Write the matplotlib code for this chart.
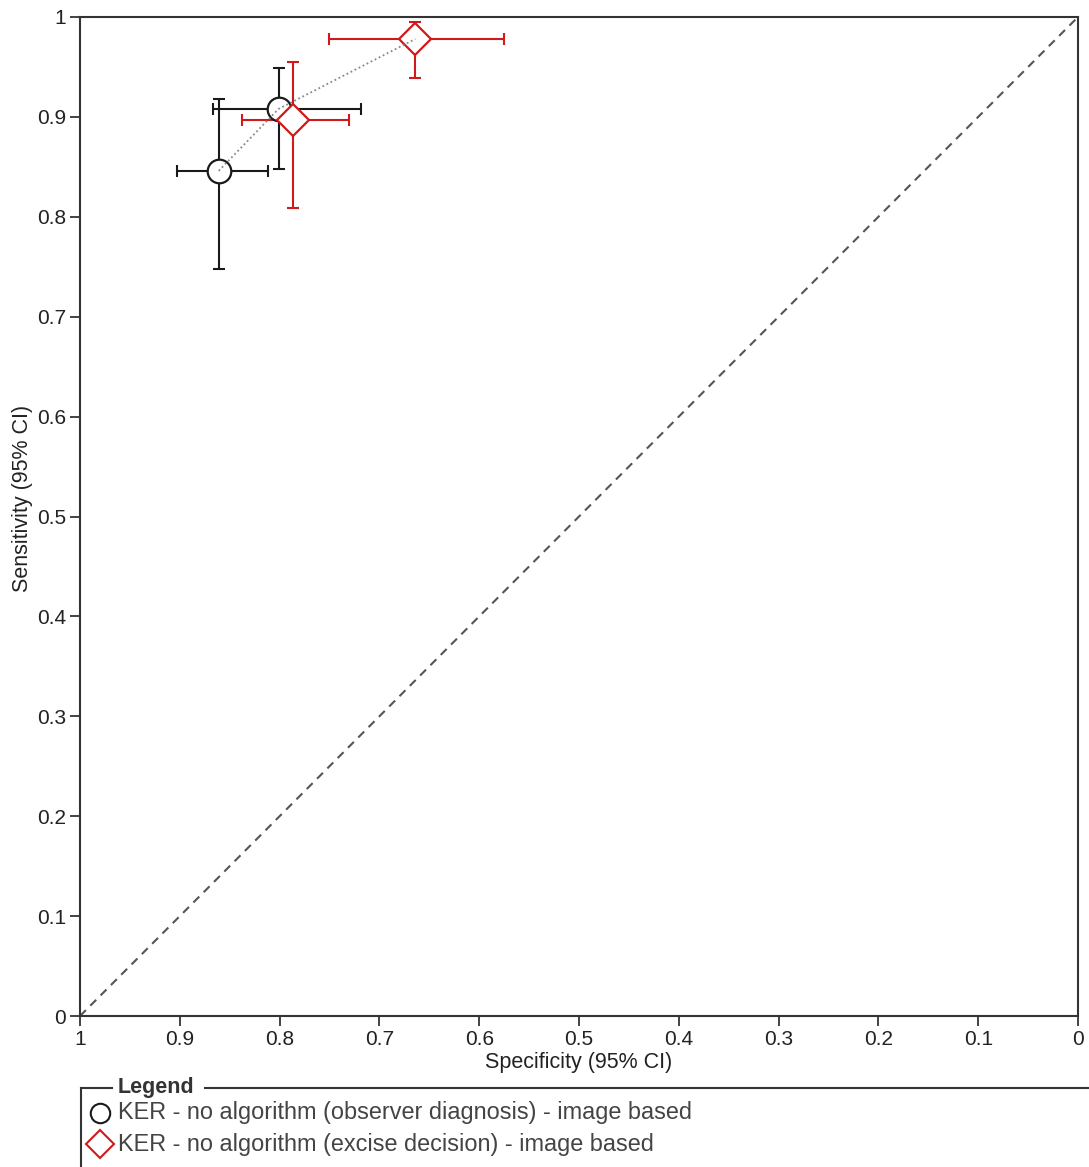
import matplotlib
matplotlib.use("Agg")
import matplotlib.pyplot as plt
from matplotlib.lines import Line2D

plt.rcParams['font.family'] = ['Liberation Sans', 'DejaVu Sans']

# Data
obs_spec = [0.861, 0.801]
obs_spec_lo = [0.812, 0.718]
obs_spec_hi = [0.903, 0.867]
obs_sens = [0.846, 0.908]
obs_sens_lo = [0.748, 0.848]
obs_sens_hi = [0.918, 0.949]

exc_spec = [0.787, 0.664]
exc_spec_lo = [0.730, 0.575]
exc_spec_hi = [0.838, 0.751]
exc_sens = [0.897, 0.978]
exc_sens_lo = [0.809, 0.939]
exc_sens_hi = [0.955, 0.995]

link_spec = [obs_spec[0], obs_spec[1], exc_spec[1]]
link_sens = [obs_sens[0], obs_sens[1], exc_sens[1]]

ticks = [0, 0.1, 0.2, 0.3, 0.4, 0.5, 0.6, 0.7, 0.8, 0.9, 1]
tick_labels = ['0', '0.1', '0.2', '0.3', '0.4', '0.5', '0.6', '0.7', '0.8', '0.9', '1']

legend_labels = ['KER - no algorithm (observer diagnosis) - image based',
                 'KER - no algorithm (excise decision) - image based']

W, H = 1089, 1167
fig = plt.figure(figsize=(W/100, H/100), dpi=100)
ax = fig.add_axes([80/W, 1 - 1016/H, (1078-80)/W, (1016-17)/H])
ax.set_xlim(1, 0)
ax.set_ylim(0, 1)

ax.plot([1, 0], [0, 1], ls=(0, (4, 3)), color='#555555', lw=1.5, zorder=1)

BLACK = '#1a1a1a'
RED = '#d0191b'

def draw(spec, lo_s, hi_s, sens, lo_t, hi_t, color, marker, ms, mew):
    for i in range(len(spec)):
        ax.errorbar(spec[i], sens[i],
                    xerr=[[spec[i]-lo_s[i]], [hi_s[i]-spec[i]]],
                    yerr=[[sens[i]-lo_t[i]], [hi_t[i]-sens[i]]],
                    fmt='none', ecolor=color, elinewidth=1.5, capsize=4.5, capthick=1.5, zorder=3)
    for i in range(len(spec)):
        ax.plot(spec[i], sens[i], marker=marker, ms=ms, mfc='white', mec=color, mew=mew, zorder=4)

draw(obs_spec, obs_spec_lo, obs_spec_hi, obs_sens, obs_sens_lo, obs_sens_hi, BLACK, 'o', 17, 1.6)
draw(exc_spec, exc_spec_lo, exc_spec_hi, exc_sens, exc_sens_lo, exc_sens_hi, RED, 'D', 16, 1.6)

ax.plot(link_spec, link_sens, ls=(0, (1, 1.5)), color='#888888', lw=1.3, zorder=5)

ax.set_xticks(ticks)
ax.set_xticklabels(tick_labels)
ax.set_yticks(ticks)
ax.set_yticklabels(tick_labels)
ax.tick_params(direction='out', length=7, width=1.2, labelsize=15, colors='#222222', pad=3)
for s in ax.spines.values():
    s.set_linewidth(1.5)
    s.set_color('#333333')
ax.set_xlabel('Specificity (95% CI)', fontsize=15.5, labelpad=2, color='#222222')
ax.set_ylabel('Sensitivity (95% CI)', fontsize=15.5, color='#222222')
ax.yaxis.set_label_coords(-0.047, 0.5185)

# Legend frame (figure pixels)
def fx(px): return px / W
def fy(py): return 1 - py / H
fig.add_artist(Line2D([fx(81), fx(81)], [fy(1088), fy(1167)], color='#333333', lw=1.5))
fig.add_artist(Line2D([fx(81), fx(112)], [fy(1088), fy(1088)], color='#333333', lw=1.5))
fig.add_artist(Line2D([fx(205), fx(1089)], [fy(1088), fy(1088)], color='#333333', lw=1.5))
fig.text(fx(118), fy(1088), 'Legend', fontsize=15.5, fontweight='bold', va='center', ha='left', color='#333333')
fig.add_artist(Line2D([fx(100)], [fy(1113)], marker='o', ms=14, mfc='none', mec=BLACK, mew=1.5))
fig.add_artist(Line2D([fx(100)], [fy(1144)], marker='D', ms=14, mfc='none', mec=RED, mew=1.5))
fig.text(fx(118), fy(1113), legend_labels[0], fontsize=16.9, va='center', ha='left', color='#444444')
fig.text(fx(118), fy(1144), legend_labels[1], fontsize=16.9, va='center', ha='left', color='#444444')

fig.savefig('out.png', dpi=100)
